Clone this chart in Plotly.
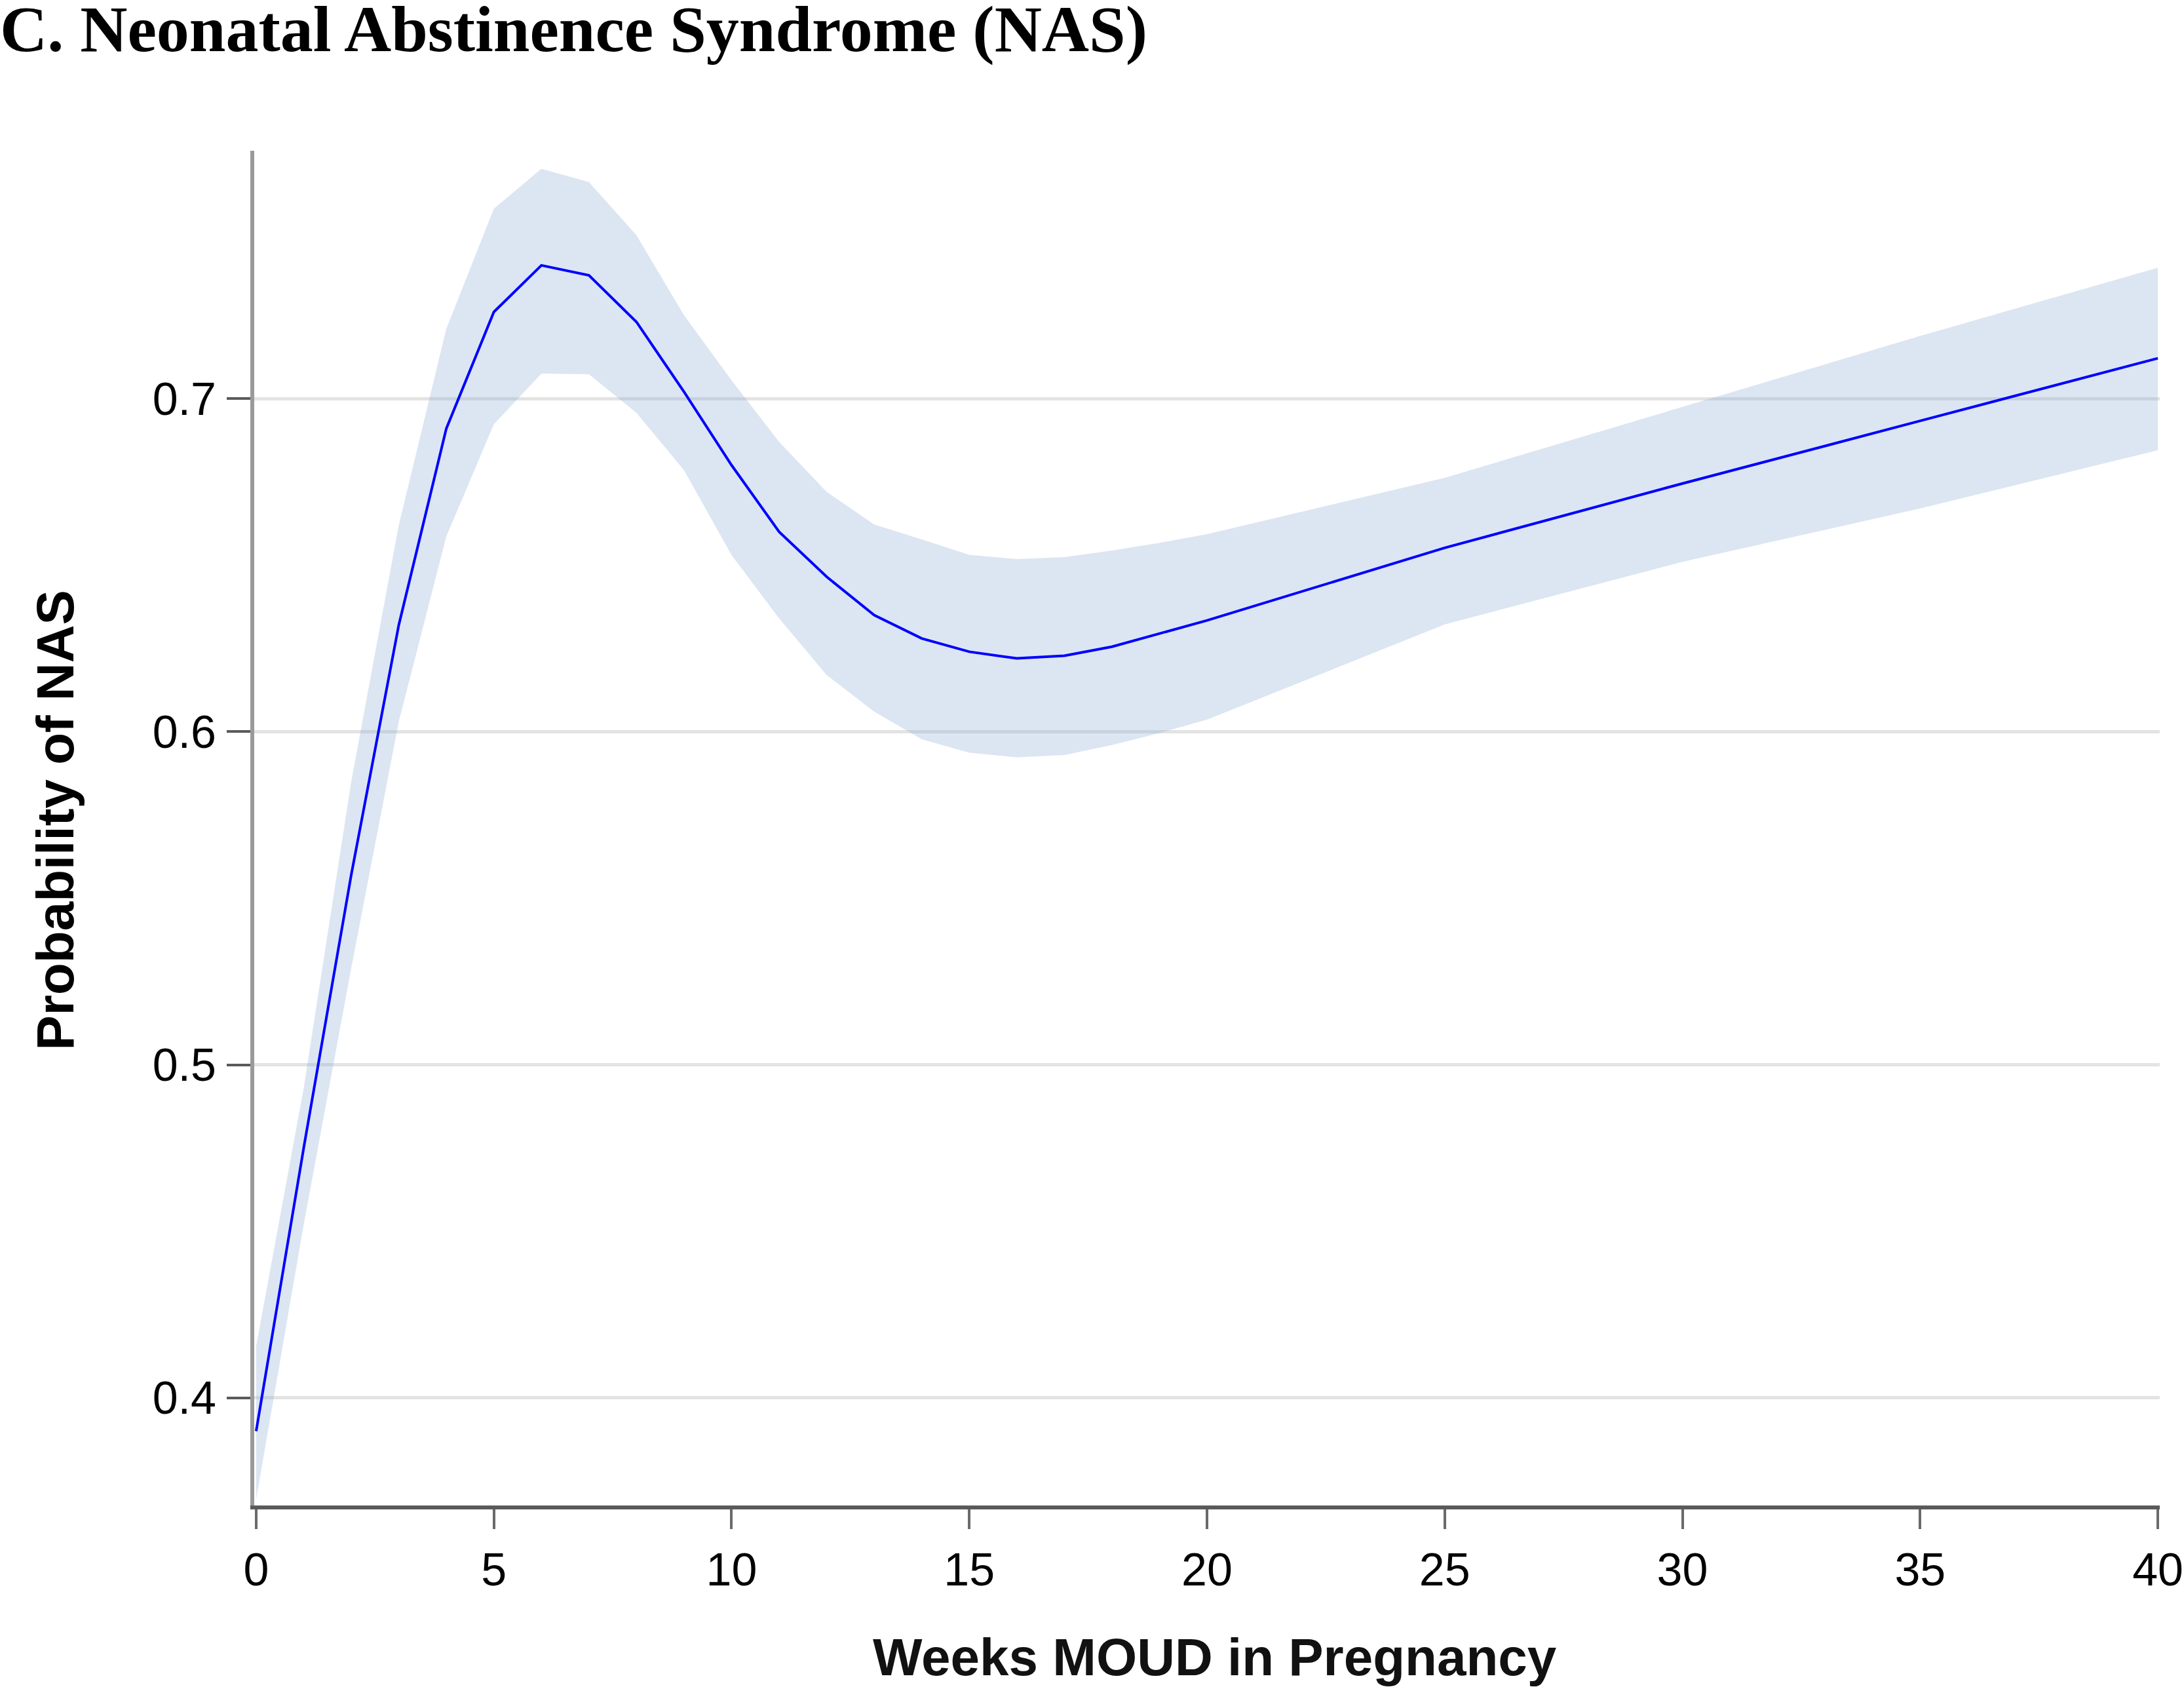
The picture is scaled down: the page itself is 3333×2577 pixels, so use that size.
import plotly.graph_objects as go

weeks = [0, 1, 2, 3, 4, 5, 6, 7, 8, 9, 10, 11, 12, 13, 14, 15, 16, 17, 18, 19, 20, 25, 30, 35, 40]
prob_nas = [0.390, 0.475, 0.557, 0.632, 0.691, 0.726, 0.740, 0.737, 0.723, 0.702,
            0.680, 0.660, 0.6465, 0.635, 0.628, 0.624, 0.622, 0.6228, 0.6255, 0.6294,
            0.6334, 0.6552, 0.6745, 0.6933, 0.7121]
ci_upper = [0.4155, 0.493, 0.585, 0.662, 0.721, 0.757, 0.769, 0.765, 0.749, 0.725,
            0.7055, 0.687, 0.672, 0.6622, 0.6577, 0.6531, 0.6518, 0.6524, 0.6544, 0.6567,
            0.6593, 0.6762, 0.6975, 0.7188, 0.7393]
ci_lower = [0.3695, 0.452, 0.529, 0.603, 0.6586, 0.6923, 0.7075, 0.7073, 0.6957, 0.6785,
            0.653, 0.634, 0.617, 0.606, 0.5977, 0.5937, 0.5923, 0.593, 0.596, 0.5996,
            0.6036, 0.6322, 0.651, 0.667, 0.6845]
x_ticks = [0, 5, 10, 15, 20, 25, 30, 35, 40]
y_ticks = [0.4, 0.5, 0.6, 0.7]
y_tick_labels = ["0.4", "0.5", "0.6", "0.7"]

fig = go.Figure()
fig.add_trace(go.Scatter(x=weeks, y=ci_lower, mode="lines", line=dict(width=0),
                         showlegend=False, hoverinfo="skip"))
fig.add_trace(go.Scatter(x=weeks, y=ci_upper, mode="lines", line=dict(width=0),
                         fill="tonexty", fillcolor="rgba(138,172,212,0.3)",
                         showlegend=False, hoverinfo="skip"))
fig.add_trace(go.Scatter(x=weeks, y=prob_nas, mode="lines",
                         line=dict(color="#0000FF", width=4), showlegend=False))

fig.update_layout(
    width=3333, height=2577,
    paper_bgcolor="white", plot_bgcolor="white",
    margin=dict(l=388, r=37, t=230, b=280, autoexpand=False),
    font=dict(family="Liberation Sans, Arial, sans-serif", color="black"),
    title=dict(text="<b>C. Neonatal Abstinence Syndrome (NAS)</b>",
               font=dict(family="Liberation Serif, Times New Roman, serif", size=100, color="black"),
               x=0, xref="container", xanchor="left",
               y=0.997, yref="container", yanchor="top", pad=dict(t=0, l=0)),
    annotations=[
        dict(text="<b>Weeks MOUD in Pregnancy</b>", xref="paper", yref="paper",
             x=0.504, y=-0.112, xanchor="center", yanchor="middle", showarrow=False,
             font=dict(size=80, color="#111111")),
        dict(text="<b>Probability of NAS</b>", xref="paper", yref="paper",
             x=-0.1042, y=0.5058, xanchor="center", yanchor="middle", showarrow=False,
             textangle=-90, font=dict(size=80, color="black")),
    ],
)

fig.update_xaxes(
    range=[-0.04, 40.04], tickmode="array", tickvals=x_ticks,
    ticks="outside", ticklen=30, tickwidth=4, tickcolor="#6a6a6a",
    showline=True, linecolor="#5a5a5a", linewidth=6,
    showgrid=False, zeroline=False, automargin=False,
    tickfont=dict(size=70, color="black"), ticklabelstandoff=2,
)
fig.update_yaxes(
    range=[0.3677, 0.7744], tickmode="array", tickvals=y_ticks, ticktext=y_tick_labels,
    ticks="outside", ticklen=36, tickwidth=4, tickcolor="#5a5a5a",
    showline=True, linecolor="#9a9a9a", linewidth=6,
    showgrid=True, gridcolor="#e3e3e3", gridwidth=5, zeroline=False, automargin=False,
    tickfont=dict(size=70, color="black"), ticklabelstandoff=2,
)

fig.write_html("out.html", config={"displayModeBar": False},
               post_script="document.body.style.margin='0';document.body.style.overflow='hidden';")
